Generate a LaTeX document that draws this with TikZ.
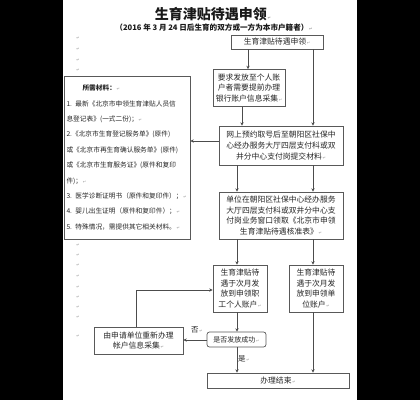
\documentclass[tikz,border=0pt]{standalone}
\usepackage{fontspec}
\newfontfamily\cjk{Noto Sans CJK SC}
\newfontfamily\symf{DejaVu Sans}
\usetikzlibrary{arrows.meta}
\newcommand{\pmk}{{\symf\fontsize{4}{4}\selectfont\color{black!40}\,↵}}
\begin{document}
\begin{tikzpicture}[x=1pt,y=-1pt,
  box/.style={draw=black!65, line width=0.7pt, fill=white, inner sep=1pt, align=center,
    font=\cjk\fontsize{7.8}{10.6}\selectfont, text=black!85},
  conn/.style={draw=black!70, line width=0.6pt, -{Stealth[length=3.4pt,width=3.2pt]}},
  lbl/.style={font=\cjk\fontsize{7.5}{9}\selectfont, text=black!85, inner sep=0pt},
  pmark/.style={font=\symf\fontsize{4}{4}\selectfont, text=black!40, inner sep=0pt}]
\useasboundingbox (0,0) rectangle (420,400);
\fill[black] (0,0) rectangle (420,400);
\fill[white] (63,0) rectangle (357,400);

% helper coordinates
\coordinate (X136) at (136,0);
\coordinate (X237) at (237,0);
\coordinate (X242) at (242,0);
\coordinate (X248) at (248,0);
\coordinate (X313) at (313,0);
\coordinate (Y141) at (0,141);
\coordinate (Y290) at (0,290);
\coordinate (Y340) at (0,340);

% titles
\node[lbl, font=\cjk\bfseries\fontsize{14}{16}\selectfont, text=black!90] (title) at (213,14) {生育津贴待遇申领\pmk};
\node[lbl, font=\cjk\bfseries\fontsize{7.6}{9}\selectfont, text=black!90] (subtitle) at (214,28) {（2016 年 3 月 24 日后生育的双方或一方为本市户籍者）\pmk};

% boxes
\node[box, minimum width=92pt, minimum height=14pt] (top) at (277,42) {生育津贴待遇申领\pmk};
\node[box, minimum width=72pt, minimum height=37pt] (req) at (249,88) {要求发放至个人账\\户者需要提前办理\\银行账户信息采集\pmk};
\node[box, minimum width=124pt, minimum height=39pt] (web) at (281,145.5) {网上预约取号后至朝阳区社保中\\心经办服务大厅四层支付科或双\\井分中心支付岗提交材料\pmk};
\node[box, minimum width=124pt, minimum height=47pt] (unit) at (281,215.5) {单位在朝阳区社保中心经办服务\\大厅四层支付科或双井分中心支\\付岗业务窗口领取《北京市申领\\生育津贴待遇核准表》\pmk};
\node[box, minimum width=54pt, minimum height=47pt] (pers) at (240,288.5) {生育津贴待\\遇于次月发\\放到申领职\\工个人账户\pmk};
\node[box, minimum width=54pt, minimum height=47pt] (uacc) at (316,288.5) {生育津贴待\\遇于次月发\\放到申领单\\位账户\pmk};
\node[box, rounded corners=2.5pt, minimum width=59pt, minimum height=15pt, font=\cjk\fontsize{7}{9}\selectfont] (check) at (236.5,339.5) {是否发放成功\pmk};
\node[box, minimum width=142pt, minimum height=15pt] (end) at (278,380.5) {办理结束\pmk};
\node[box, minimum width=89pt, minimum height=27pt] (redo) at (138.5,340.5) {由申请单位重新办理\\帐户信息采集\pmk};
\node[box, minimum width=126pt, minimum height=163pt, text width=121pt, align=left,
  font=\cjk\fontsize{6.7}{15.4}\selectfont] (mat) at (127,157.5)
  {\hspace*{16pt}{\bfseries 所需材料：}\pmk\\
   1. 最新《北京市申领生育津贴人员信\\
   息登记表》(一式二份)；\pmk\\
   2.《北京市生育登记服务单》(原件)\\
   或《北京市再生育确认服务单》(原件)\\
   或《北京市生育服务证》(原件和复印\\
   件)；\pmk\\
   3. 医学诊断证明书（原件和复印件）；\pmk\\
   4. 婴儿出生证明（原件和复印件）；\pmk\\
   5. 特殊情况，需提供其它相关材料。\pmk};

% connectors
\draw[conn] (top.south -| X248) -- (req.north -| X248);
\draw[conn] (top.south -| X313) -- (web.north -| X313);
\draw[conn] (req.south -| X242) -- (web.north -| X242);
\draw[conn] (web.south -| X237) -- (unit.north -| X237);
\draw[conn] (web.south -| X313) -- (unit.north -| X313);
\draw[conn] (web.west |- Y141) -- (mat.east |- Y141);
\draw[conn] (unit.south -| X237) -- (pers.north -| X237);
\draw[conn] (unit.south -| X313) -- (uacc.north -| X313);
\draw[conn] (redo.north -| X136) |- (pers.west |- Y290);
\draw[conn] (pers.south -| X237) -- (check.north -| X237);
\draw[conn] (check.west |- Y340) -- (redo.east |- Y340);
\draw[conn] (check.south -| X237) -- (end.north -| X237);
\draw[conn] (uacc.south -| X313) -- (end.north -| X313);

% labels
\node[lbl] (no) at (197,330) {否\pmk};
\node[lbl] (yes) at (244,359) {是\pmk};

% paragraph marks in the left margin
\foreach \y [count=\i] in {38,49,60,70,245,255,265,276,287,297,307,317,336}
  \node[pmark] (pm\i) at (78,\y) {↵};
\end{tikzpicture}
\end{document}
